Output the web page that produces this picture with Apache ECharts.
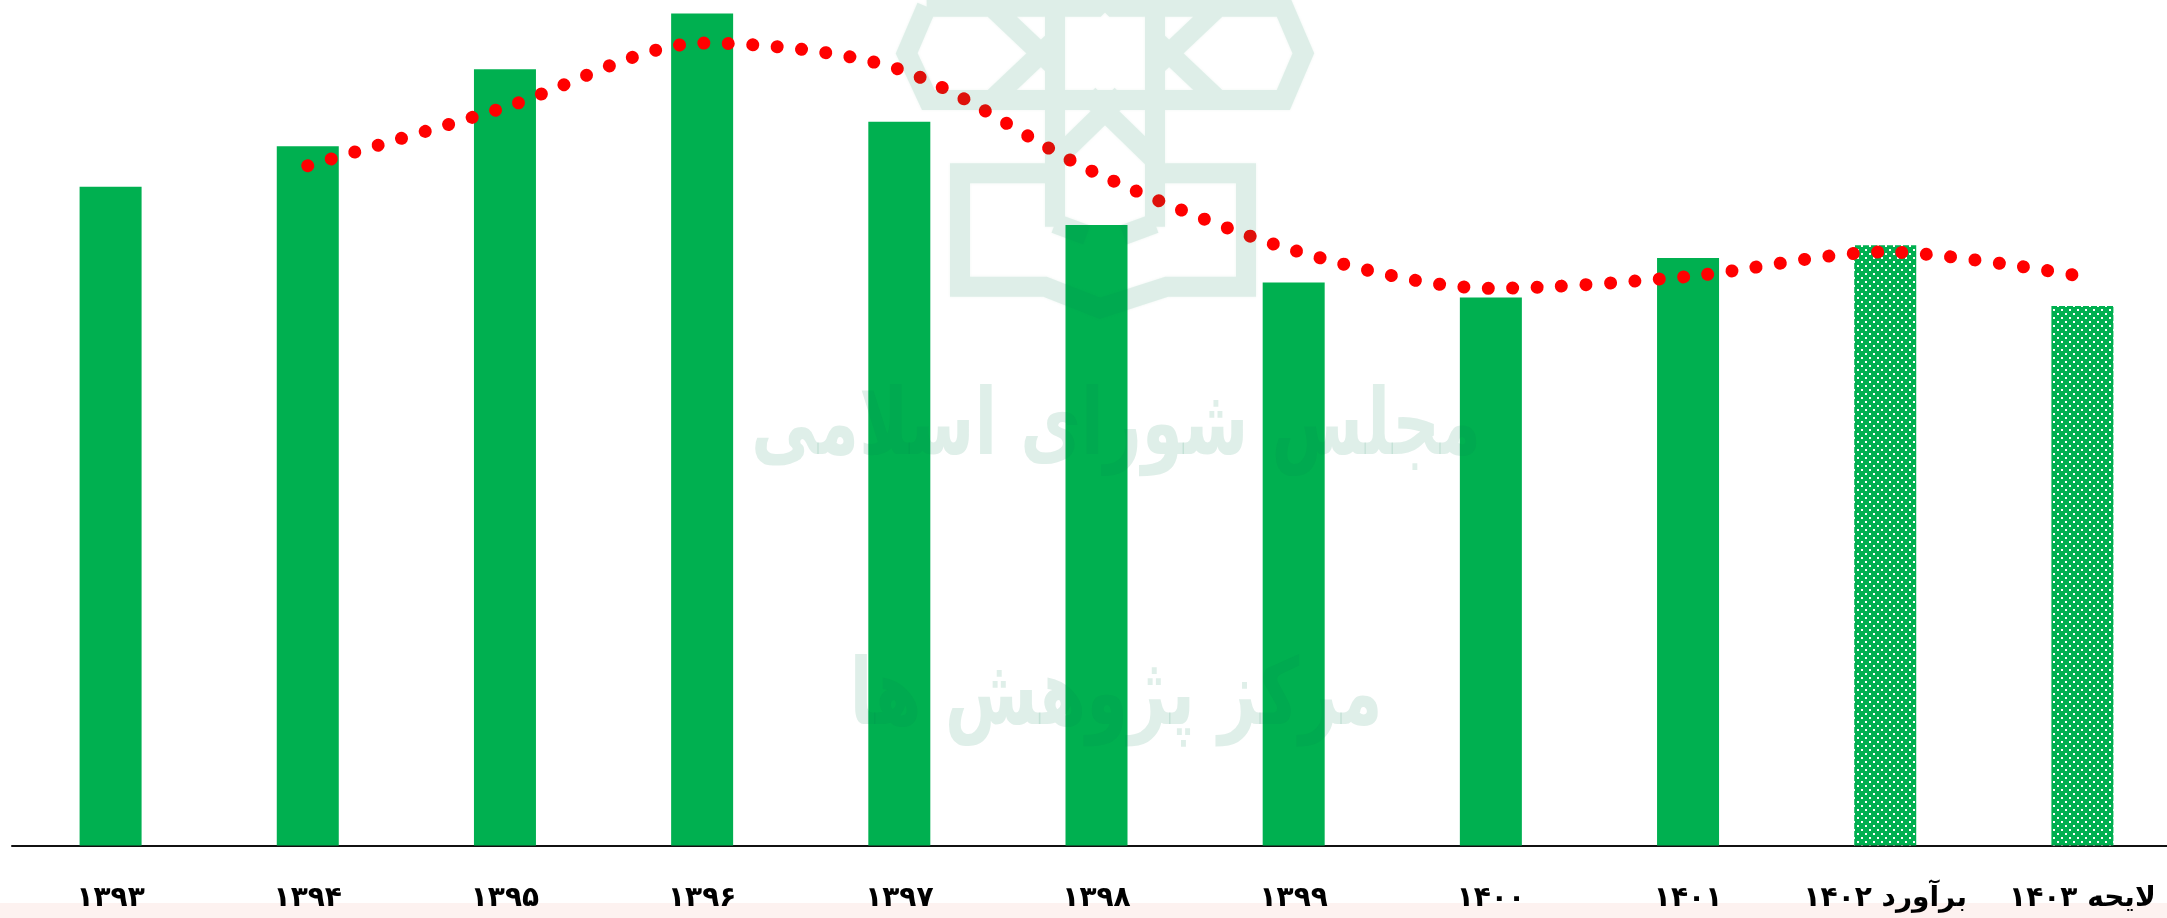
<!DOCTYPE html>
<html lang="fa">
<head>
<meta charset="utf-8">
<style>html,body{margin:0;padding:0;background:#fff}#c{width:2167px;height:918px}</style>
<script src="https://cdn.jsdelivr.net/npm/echarts@6/dist/echarts.min.js"></script>
</head>
<body>
<div id="c"></div>
<script>
const categories = ['۱۳۹۳','۱۳۹۴','۱۳۹۵','۱۳۹۶','۱۳۹۷','۱۳۹۸','۱۳۹۹','۱۴۰۰','۱۴۰۱','برآورد ۱۴۰۲','لایحه ۱۴۰۳'];
const barValues = [77.9, 82.7, 91.8, 98.4, 85.6, 73.4, 66.6, 64.8, 69.5, 71.0, 63.8];
const trendValues = [null, 80.4, 87.3, 94.9, 91.8, 79.5, 70.4, 65.9, 67.3, 70.2, 67.3];
const estimateCategories = ['برآورد ۱۴۰۲','لایحه ۱۴۰۳'];

const GREEN = '#00B050';
const tile = document.createElement('canvas');
tile.width = 8; tile.height = 8;
const tc = tile.getContext('2d');
tc.fillStyle = GREEN; tc.fillRect(0,0,8,8);
tc.fillStyle = '#fff'; tc.fillRect(1,1,2,2); tc.fillRect(5,5,2,2);
const dotted = {image: tile, repeat: 'repeat'};

// watermark logo (decorative, traced from the reference, not data)
const wmColor = 'rgba(0,130,80,0.125)';
const logoPaths = [
 [[140,20],[80,160],[145,300],[1210,300],[1270,160],[1210,20],[700,20],[675,-5],[650,20],[140,20]],
 [[335,20],[525,200]],[[335,300],[525,120]],
 [[1015,20],[825,200]],[[1015,300],[825,120]],
 [[525,20],[525,680]],[[825,20],[825,680]],
 [[625,285],[825,480]],[[725,285],[525,480]],
 [[525,670],[620,705]],[[825,670],[730,705]],
 [[510,520],[240,520],[240,860],[495,860],[660,925],[860,860],[1098,860],[1098,520],[840,520]]
];
const logo = document.createElement('canvas');
logo.width = 480; logo.height = 340;
const lc = logo.getContext('2d');
lc.strokeStyle = '#008250'; lc.lineWidth = 20; lc.lineJoin = 'miter';
lc.shadowColor = 'rgba(0,130,80,0.5)'; lc.shadowBlur = 3;
lc.beginPath();
logoPaths.forEach(p => p.forEach((q,i) => {
  const X = q[0]/3, Y = q[1]/3;
  if (i) lc.lineTo(X,Y); else lc.moveTo(X,Y);
}));
lc.stroke();

const wmText = (t,x,y,size,sx) => ({
  type:'text', silent:true, z:100, x, y, scaleX:sx,
  style:{text:t, font:'700 '+size+'px "DejaVu Sans"', fill:wmColor, align:'center', verticalAlign:'middle'}
});

const chart = echarts.init(document.getElementById('c'), null, {renderer:'canvas', width:2167, height:918});
chart.setOption({
  animation:false,
  backgroundColor:'#fff',
  grid:{left:12, width:2169, top:0, height:845.5, outerBoundsMode:'none'},
  xAxis:{
    type:'category', data:categories,
    axisTick:{show:false},
    axisLine:{lineStyle:{color:'#111', width:2}},
    axisLabel:{interval:0, margin:38, color:'#000', fontFamily:'"DejaVu Sans"', fontWeight:'bold', fontSize:28, lineHeight:30}
  },
  yAxis:{type:'value', min:0, max:100, show:false, splitLine:{show:false}},
  series:[
    {type:'bar', barWidth:62, silent:true,
     data:barValues.map((v,i)=>({value:v, itemStyle:{color: estimateCategories.includes(categories[i]) ? dotted : GREEN}}))},
    {type:'line', smooth:0.3, symbol:'none', silent:true, z:5,
     data:trendValues,
     lineStyle:{color:'#FF0000', width:13, type:[0.01,24.45], cap:'round'}}
  ],
  graphic:[
    {type:'rect', silent:true, z:-1, shape:{x:0,y:903,width:2167,height:15}, style:{fill:'#FDF2F0'}},
    {type:'image', silent:true, z:100, x:880, y:0, style:{image:logo, x:0, y:0, width:480, height:340, opacity:0.125}},
    wmText('مجلس شورای اسلامی',1116,430,92,0.72),
    wmText('مرکز پژوهش ها',1116,700,92,0.73)
  ]
});
</script>
</body>
</html>
